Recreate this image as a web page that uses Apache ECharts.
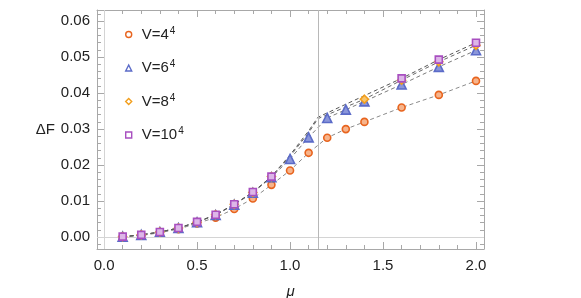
<!DOCTYPE html>
<html><head><meta charset="utf-8">
<script src="https://cdn.jsdelivr.net/npm/echarts@6/dist/echarts.min.js"></script>
<style>html,body{margin:0;padding:0;background:#fff}#c{width:581px;height:298px}</style>
</head><body><div id="c"></div>
<script>
// ---- data ----
const mu17 = [0.1,0.2,0.3,0.4,0.5,0.6,0.7,0.8,0.9,1.0,1.1,1.2,1.3,1.4,1.6,1.8,2.0];
const dF4  = [0.0000,0.0004,0.0012,0.0022,0.0038,0.0054,0.0078,0.0107,0.0145,0.0185,0.0234,0.0276,0.0300,0.0320,0.0360,0.0395,0.0434];
const dF6  = [0.0001,0.0006,0.0014,0.0025,0.0041,0.0061,0.0090,0.0123,0.0166,0.0217,0.0277,0.0331,0.0354,0.0377,0.0424,0.0473,0.0519];
const mu8  = [0.1,0.2,0.3,0.4,0.5,0.6,0.7,0.8,0.9,1.4,1.6,1.8,2.0];
const dF8  = [0.0001,0.0006,0.0014,0.0025,0.0041,0.0062,0.0091,0.0124,0.0168,0.0383,0.0436,0.0487,0.0533];
const mu8L = [0.1,0.2,0.3,0.4,0.5,0.6,0.7,0.8,0.9,1.0,1.1,1.15,1.4,1.6,1.8,2.0];
const dF8L = [0.0001,0.0006,0.0014,0.0025,0.0041,0.0062,0.0091,0.0124,0.0168,0.0224,0.0290,0.0329,0.0383,0.0436,0.0487,0.0533];
const mu10  = [0.1,0.2,0.3,0.4,0.5,0.6,0.7,0.8,0.9,1.6,1.8,2.0];
const dF10  = [0.0001,0.0006,0.0014,0.0025,0.0042,0.0062,0.0091,0.0125,0.0168,0.0441,0.0493,0.0540];
const mu10L = [0.1,0.2,0.3,0.4,0.5,0.6,0.7,0.8,0.9,1.0,1.1,1.15,1.6,1.8,2.0];
const dF10L = [0.0001,0.0006,0.0014,0.0025,0.0042,0.0062,0.0091,0.0125,0.0168,0.0228,0.0295,0.0333,0.0441,0.0493,0.0540];
const legendNames = ['V=4','V=6','V=8','V=10'];
const xMajor = [0,0.5,1.0,1.5,2.0];
const xMinor = [0.1,0.2,0.3,0.4,0.6,0.7,0.8,0.9,1.1,1.2,1.3,1.4,1.6,1.7,1.8,1.9];
const yMajor = [0,0.01,0.02,0.03,0.04,0.05,0.06];
const yMinor = [-0.002,0.002,0.004,0.006,0.008,0.012,0.014,0.016,0.018,0.022,0.024,0.026,0.028,0.032,0.034,0.036,0.038,0.042,0.044,0.046,0.048,0.052,0.054,0.056,0.058,0.062];
const muCrit = 1.15;

const zip = (a,b) => a.map((v,i)=>[v,b[i]]);
const XMIN=-0.038, XMAX=2.043, YMIN=-0.00333, YMAX=0.0631;
const frame='#a8a8a8', txt='#222';

function xAx(pos, ticks, len, labels, line){
  return {type:'value', position:pos, min:XMIN, max:XMAX,
    axisLine:{show:line, onZero:false, lineStyle:{color:frame,width:1}},
    axisTick:{show:true, inside:true, length:len, customValues:ticks, lineStyle:{color:frame}},
    axisLabel:labels?{show:true, customValues:xMajor, margin:9, color:txt, fontSize:15, fontFamily:'Liberation Sans', formatter:v=>(+v).toFixed(1)}:{show:false},
    splitLine:{show:false},
    name: labels?'μ':'', nameLocation:'middle', nameGap:35,
    nameTextStyle:{fontStyle:'italic', fontSize:15, color:txt, fontFamily:'Liberation Sans'}};
}
function yAx(pos, ticks, len, labels, line){
  return {type:'value', position:pos, min:YMIN, max:YMAX,
    axisLine:{show:line, onZero:false, lineStyle:{color:frame,width:1}},
    axisTick:{show:true, inside:true, length:len, customValues:ticks, lineStyle:{color:frame}},
    axisLabel:labels?{show:true, customValues:yMajor, margin:7, color:txt, fontSize:15, fontFamily:'Liberation Sans', formatter:v=>(+v).toFixed(2)}:{show:false},
    splitLine:{show:false},
    name: labels?'ΔF':'', nameLocation:'middle', nameGap:40, nameRotate:0,
    nameTextStyle:{fontSize:15, color:txt, fontFamily:'Liberation Sans'}};
}

const dashLine = (name, data, color) => ({type:'line', name, data, symbol:'none', silent:true, z:1,
  lineStyle:{color, width:1, type:[4,3]}});
const marks = (name, data, symbol, size, stroke, fill, z) => ({type:'scatter', name, data, symbol, symbolSize:size, z,
  itemStyle:{color:fill, borderColor:stroke, borderWidth:1.6, opacity:1}});

const legendStroke = ['#E8641E','#5B6BC8','#F29E1C','#A84FC0'];
const chart = echarts.init(document.getElementById('c'), null, {renderer:'canvas'});
chart.setOption({
  animation:false,
  grid:{left:97, right:97, top:10, bottom:49, outerBoundsMode:'none', containLabel:false},
  xAxis:[xAx('bottom',xMajor,7,true,true), xAx('bottom',xMinor,4,false,false), xAx('top',xMajor,7,false,true), xAx('top',xMinor,4,false,false)],
  yAxis:[yAx('left',yMajor,7,true,true), yAx('left',yMinor,4,false,false), yAx('right',yMajor,7,false,true), yAx('right',yMinor,4,false,false)],
  legend:{data:legendNames.map((n,i)=>({name:n, itemStyle:{color:'#fff', borderColor:legendStroke[i], borderWidth:1.4}})),
    orient:'vertical', left:120, top:21, itemWidth:6, itemHeight:6, itemGap:15.5,
    formatter:n=>'{b|'+n+'}{s|4}',
    textStyle:{color:txt, rich:{b:{fontSize:15, fontFamily:'Liberation Sans', lineHeight:17, padding:[0,0,0,5]}, s:{fontSize:10, fontFamily:'Liberation Sans', lineHeight:17, verticalAlign:'top', padding:[0,0,8,1]}}}},
  series:[
    {type:'line', data:[], markLine:{silent:true, symbol:'none', label:{show:false},
      data:[{xAxis:0, lineStyle:{color:'#d4d4d4', width:1, type:'solid'}},
            {yAxis:0, lineStyle:{color:'#d4d4d4', width:1, type:'solid'}},
            {xAxis:muCrit, lineStyle:{color:'#b8b8b8', width:1, type:'solid'}}]}},
    dashLine('l4', zip(mu17,dF4), '#8a8a8a'),
    dashLine('l6', zip(mu17,dF6), '#7a7a7a'),
    dashLine('l8', zip(mu8L,dF8L), '#666'),
    dashLine('l10', zip(mu10L,dF10L), '#555'),
    marks('V=4', zip(mu17,dF4), 'circle', 7, '#E8641E', '#F6B48C', 3),
    marks('V=6', zip(mu17,dF6), 'triangle', 9, '#5B6BC8', '#8A96DA', 4),
    marks('V=8', zip(mu8,dF8), 'diamond', 8, '#F29E1C', '#F7C46C', 5),
    marks('V=10', zip(mu10,dF10), 'rect', 7, '#A84FC0', '#DDB6E8', 6)
  ]
});
</script></body></html>
